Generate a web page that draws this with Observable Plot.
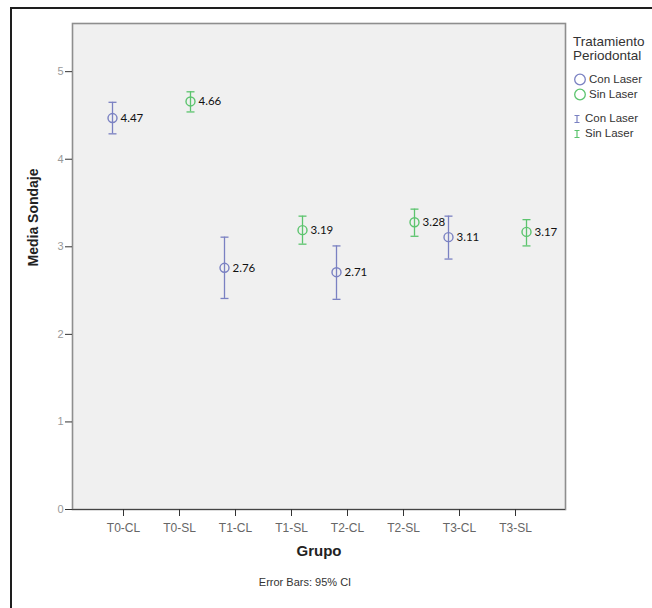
<!DOCTYPE html>
<html>
<head>
<meta charset="utf-8">
<script src="https://cdn.jsdelivr.net/npm/d3@7"></script>
<script src="https://cdn.jsdelivr.net/npm/@observablehq/plot@0.6"></script>
<style>
  body { margin: 0; background: #fff; overflow: hidden; }
  #root { position: relative; width: 652px; height: 608px; overflow: hidden; background: #fff; font-family: "Liberation Sans", Arial, sans-serif; }
  #chart { position: absolute; left: 0; top: 0; }
  #frame { position: absolute; left: 10px; top: 7px; width: 800px; height: 800px; border: 2px solid #1e1e1e; pointer-events: none; }
  #legend { position: absolute; left: 573px; top: 35px; color: #333; }
  #legend .title { font-size: 13.5px; line-height: 14px; white-space: nowrap; }
  #legend .item { font-size: 11.5px; line-height: 15px; height: 15px; display: flex; align-items: center; white-space: nowrap; }
  #caption { position: absolute; left: 205px; top: 576px; width: 200px; text-align: center; font-size: 11px; color: #333; }
</style>
</head>
<body>
<div id="root">
  <div id="chart"></div>
  <div id="legend"></div>
  <div id="caption">Error Bars: 95% CI</div>
  <div id="frame"></div>
</div>
<script>
// ---- data ----
const groups = ["T0-CL", "T0-SL", "T1-CL", "T1-SL", "T2-CL", "T2-SL", "T3-CL", "T3-SL"];
const treatment = ["Con Laser", "Sin Laser", "Con Laser", "Sin Laser", "Con Laser", "Sin Laser", "Con Laser", "Sin Laser"];
const means = [4.47, 4.66, 2.76, 3.19, 2.71, 3.28, 3.11, 3.17];
const ciLower = [4.29, 4.54, 2.41, 3.03, 2.40, 3.12, 2.86, 3.01];
const ciUpper = [4.65, 4.77, 3.11, 3.35, 3.01, 3.43, 3.35, 3.31];
const yTicks = [0, 1, 2, 3, 4, 5];
const series = ["Con Laser", "Sin Laser"];
const seriesColors = ["#7a81c2", "#5cc46e"];
const legendTitle = ["Tratamiento", "Periodontal"];

const data = groups.map((g, i) => ({
  grupo: g, trat: treatment[i], mean: means[i], lo: ciLower[i], hi: ciUpper[i]
}));

const offsets = {"Con Laser": -11, "Sin Laser": 11};
const cap = { draw(ctx) { ctx.moveTo(-4, 0); ctx.lineTo(4, 0); } };

const marks = [
  Plot.frame({fill: "#f0f0f0", stroke: "#8e8e8e", strokeWidth: 1.6}),
  Plot.ruleY([0], {stroke: "#444", strokeWidth: 1.2}),
  Plot.axisY({ticks: yTicks, tickSize: 7, tickPadding: 2, stroke: "#333", fill: "#999", fontSize: 11, label: null, tickFormat: d3.format("d")}),
  Plot.axisX({tickSize: 7, tickPadding: 7, stroke: "#333", fill: "#666", fontSize: 12, label: null}),
  Plot.text(["Media Sondaje"], {text: d => d, frameAnchor: "left", dx: -39, rotate: -90, fontWeight: "bold", fontSize: 14, fill: "#222", fontFamily: "Liberation Sans, Arial, sans-serif"}),
  Plot.text(["Grupo"], {text: d => d, frameAnchor: "bottom", dy: 46, fontWeight: "bold", fontSize: 15, fill: "#222", fontFamily: "Liberation Sans, Arial, sans-serif"})
];

series.forEach((s, k) => {
  const color = seriesColors[k];
  const dx = offsets[s];
  const filt = d => d.trat === s;
  marks.push(
    Plot.ruleX(data, {filter: filt, x: "grupo", y1: "lo", y2: "hi", stroke: color, strokeWidth: 1.3, dx}),
    Plot.dot(data, {filter: filt, x: "grupo", y: "hi", symbol: cap, stroke: color, strokeWidth: 1.3, r: 4, dx}),
    Plot.dot(data, {filter: filt, x: "grupo", y: "lo", symbol: cap, stroke: color, strokeWidth: 1.3, r: 4, dx}),
    Plot.dot(data, {filter: filt, x: "grupo", y: "mean", r: 4.5, stroke: color, strokeWidth: 1.4, fill: "none", dx}),
    Plot.text(data, {filter: filt, x: "grupo", y: "mean", text: d => d.mean.toFixed(2), textAnchor: "start", dx: dx + 8, fontSize: 11.5, fill: "#111", fontFamily: "Lato, sans-serif"})
  );
});

const chart = Plot.plot({
  width: 652,
  height: 560,
  marginTop: 23,
  marginLeft: 72,
  marginRight: 87,
  marginBottom: 51,
  style: {background: "transparent", fontFamily: "Liberation Sans, Arial, sans-serif", overflow: "visible"},
  x: {type: "point", domain: groups, padding: 0.85},
  y: {domain: [0, 5.55]},
  marks
});
document.getElementById("chart").appendChild(chart);

// legend (HTML, right of the plot)
const legend = document.getElementById("legend");
legend.innerHTML =
  legendTitle.map(t => `<div class="title">${t}</div>`).join("") +
  `<div style="height:9px"></div>` +
  series.map((s, k) => `<div class="item"><svg width="14" height="13" style="margin-right:2px"><circle cx="7" cy="6.5" r="5.3" fill="none" stroke="${seriesColors[k]}" stroke-width="1.3"/></svg>${s}</div>`).join("") +
  `<div style="height:9px"></div>` +
  series.map((s, k) => `<div class="item"><svg width="9" height="12" style="margin-right:3px"><path d="M1.5,2.5H6.5M4,2.5V9.5M1.5,9.5H6.5" fill="none" stroke="${seriesColors[k]}" stroke-width="1.2"/></svg>${s}</div>`).join("");
</script>
</body>
</html>
